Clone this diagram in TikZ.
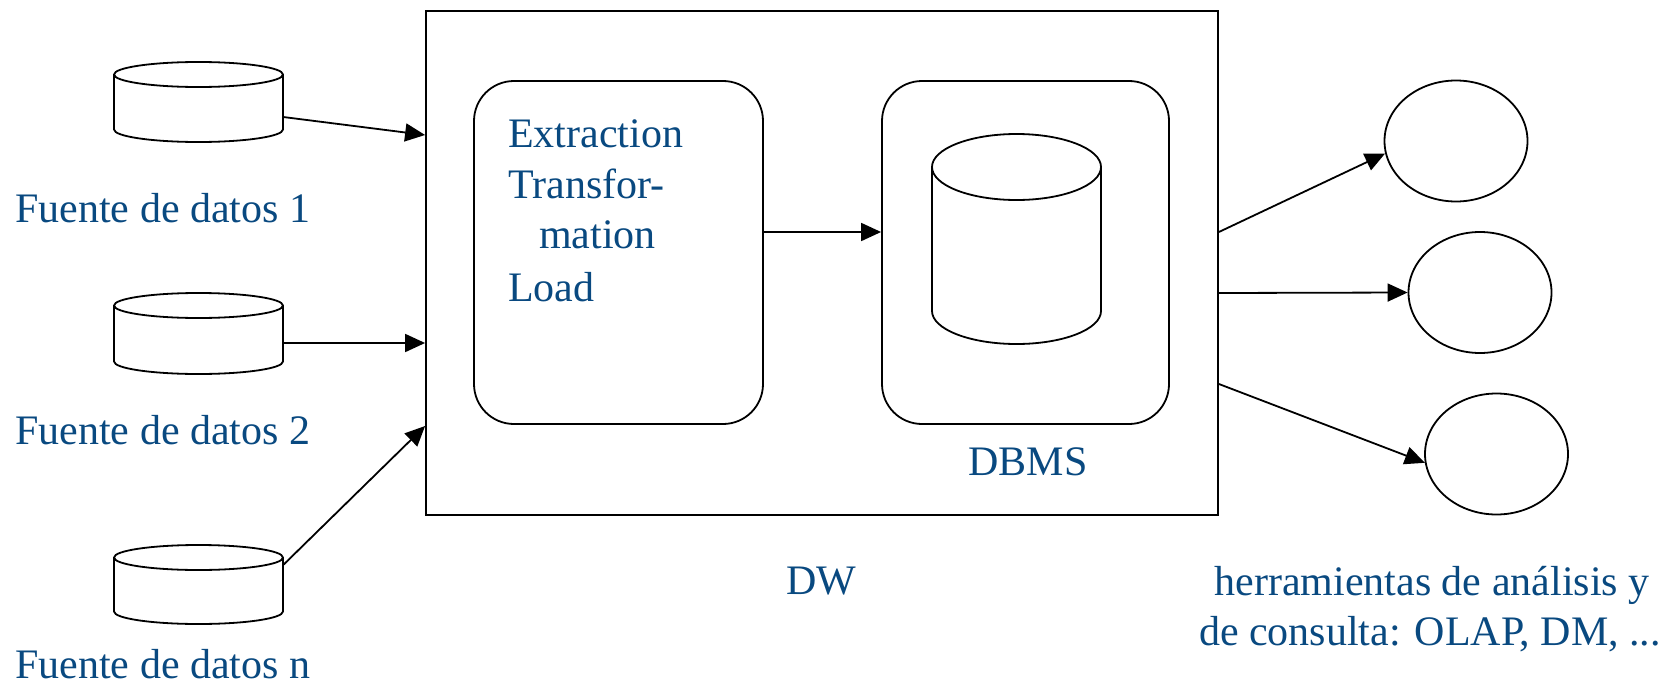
\documentclass[tikz,border=0pt]{standalone}
\usepackage{fontspec}
\setmainfont{Liberation Serif}
\usetikzlibrary{arrows.meta,shapes.geometric}
\definecolor{labelblue}{RGB}{9,73,128}

% vertical drum: #1 name, #2 centre x, #3 top y, #4 bottom y, #5 x radius, #6 y radius
\newcommand{\drum}[6]{%
  \filldraw[line,fill=white] (#2-#5,#4-#6)
    arc[start angle=180,end angle=360,x radius=#5pt,y radius=#6pt]
    -- (#2+#5,#3+#6)
    arc[start angle=0,end angle=180,x radius=#5pt,y radius=#6pt] -- cycle;
  \draw[line] (#2-#5,#3+#6)
    arc[start angle=180,end angle=360,x radius=#5pt,y radius=#6pt];
  \node[inner sep=0pt,minimum width={2*#5pt},minimum height={(#4-#3)*1pt}] (#1) at (#2,{(#3+#4)/2}) {};%
}

\begin{document}
\begin{tikzpicture}[x=1pt,y=-1pt,
  line/.style={line width=1.8pt,draw=black},
  flow/.style={line,-{Triangle[length=20pt,width=18pt]}},
  frame/.style={line,inner sep=0pt},
  rbox/.style={line,inner sep=0pt,rounded corners=40pt},
  tool/.style={line,ellipse,inner sep=0pt,minimum width=143pt,minimum height=121pt},
  lbl/.style={text=labelblue,inner sep=0pt,font=\fontsize{42}{51}\selectfont}]

\useasboundingbox (0,0) rectangle (1680,685);

% data warehouse frame and its two inner blocks
\node[frame,minimum width=792pt,minimum height=504pt] (dw) at (822,263) {};
\node[rbox,minimum width=289pt,minimum height=343pt] (etl) at (618.5,252.5) {};
\node[rbox,minimum width=287pt,minimum height=343pt] (dbms) at (1025.5,252.5) {};
\drum{store}{1016.5}{134}{344}{84.5}{33}

% data sources
\drum{s1}{198.5}{62}{142}{84.5}{12.5}
\drum{s2}{198.5}{293}{374}{84.5}{12.5}
\drum{s3}{198.5}{545}{624}{84.5}{12.5}

% analysis tools
\node[tool] (t1) at (1456,141) {};
\node[tool] (t2) at (1480,292.5) {};
\node[tool] (t3) at (1496.5,454) {};

% labels
\node[lbl,anchor=base west] (l1) at (15,222) {Fuente de datos 1};
\node[lbl,anchor=base west] (l2) at (15,444) {Fuente de datos 2};
\node[lbl,anchor=base west] (l3) at (15,678) {Fuente de datos n};
\node[lbl,anchor=base west] (e1) at (508,147) {Extraction};
\node[lbl,anchor=base west] (e2) at (508,198) {Transfor-};
\node[lbl,anchor=base west] (e3) at (539,248) {mation};
\node[lbl,anchor=base west] (e4) at (508,301) {Load};
\node[lbl,anchor=base] (ldbms) at (1028,475) {DBMS};
\node[lbl,anchor=base] (ldw) at (821.5,594) {DW};
\node[lbl,anchor=base] (h1) at (1432,595) {herramientas de análisis y};
\node[lbl,anchor=base] (h2) at (1430,645) {de consulta: OLAP, DM, ...};

% connectors
\draw[flow] (s1.east |- 0,117) -- (dw.west |- 0,135);
\draw[flow] (s2.east |- 0,343) -- (dw.west |- 0,343);
\draw[flow] (s3.east |- 0,565) -- (dw.west |- 0,426);
\draw[flow] (etl.east |- 0,232) -- (dbms.west |- 0,232);
\draw[flow] (dw.east |- 0,232) -- (t1.190);
\draw[flow] (dw.east |- 0,293) -- (t2.west);
\draw[flow] (dw.east |- 0,384) -- (t3.187);
\end{tikzpicture}
\end{document}
